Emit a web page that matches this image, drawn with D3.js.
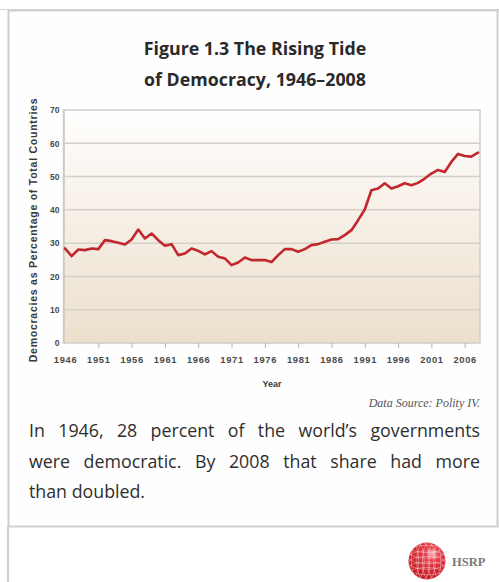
<!DOCTYPE html>
<html>
<head>
<meta charset="utf-8">
<script src="https://cdn.jsdelivr.net/npm/d3@7"></script>
<style>
  html, body { margin: 0; padding: 0; background: #ffffff; }
  svg { display: block; }
</style>
</head>
<body>
<svg id="chart" width="499" height="582"></svg>
<script>
const years = [1946,1947,1948,1949,1950,1951,1952,1953,1954,1955,1956,1957,1958,1959,1960,1961,1962,1963,1964,1965,1966,1967,1968,1969,1970,1971,1972,1973,1974,1975,1976,1977,1978,1979,1980,1981,1982,1983,1984,1985,1986,1987,1988,1989,1990,1991,1992,1993,1994,1995,1996,1997,1998,1999,2000,2001,2002,2003,2004,2005,2006,2007,2008];
const democracyPct = [28.4,26.1,28.1,27.9,28.4,28.2,30.9,30.6,30.1,29.6,31.1,34.1,31.4,32.9,30.9,29.2,29.7,26.4,26.9,28.4,27.7,26.6,27.6,25.9,25.4,23.4,24.2,25.7,24.9,24.9,24.9,24.3,26.4,28.2,28.2,27.4,28.2,29.4,29.7,30.4,31.1,31.2,32.4,33.9,36.9,40.1,45.9,46.4,48.0,46.4,47.1,48.0,47.4,48.1,49.4,50.9,52.0,51.4,54.4,56.8,56.2,56.0,57.2];
const xTickYears = [1946,1951,1956,1961,1966,1971,1976,1981,1986,1991,1996,2001,2006];
const yTicks = [0,10,20,30,40,50,60,70];
const titleLines = ["Figure 1.3 The Rising Tide", "of Democracy, 1946\u20132008"];
const yAxisTitle = "Democracies as Percentage of Total Countries";
const xAxisTitle = "Year";
const sourceText = "Data Source: Polity IV.";
const bodyLines = ["In 1946, 28 percent of the world\u2019s governments", "were democratic. By 2008 that share had more", "than doubled."];
const logoText = "HSRP";

const svg = d3.select("#chart");
const sans = "'Open Sans', 'Noto Sans', sans-serif";
const axisFont = "'Liberation Sans', Arial, sans-serif";

// page frame
svg.append("line").attr("x1", 0).attr("x2", 499).attr("y1", 9.5).attr("y2", 9.5)
  .attr("stroke", "#d6d6d6").attr("stroke-width", 1);
svg.append("rect").attr("x", 8.5).attr("y", 10.5).attr("width", 489).attr("height", 516)
  .attr("fill", "#fefefe").attr("stroke", "#cfcfcf").attr("stroke-width", 2);
svg.append("line").attr("x1", 8).attr("x2", 8).attr("y1", 526).attr("y2", 582)
  .attr("stroke", "#cfcfcf").attr("stroke-width", 2);

// title
svg.append("g").selectAll("text").data(titleLines).join("text")
  .attr("x", 255).attr("y", (d, i) => 55 + i * 31)
  .attr("text-anchor", "middle")
  .attr("font-family", sans).attr("font-weight", 700).attr("font-size", 17.8)
  .attr("fill", "#2a2a2a").text(d => d);

// scales
const x = d3.scaleLinear().domain([1946, 2008]).range([65, 478]);
const y = d3.scaleLinear().domain([0, 70]).range([343, 110]);
const plotL = 63.5, plotR = 480, plotT = y(70), plotB = y(0);

// gradient background
const defs = svg.append("defs");
const grad = defs.append("linearGradient").attr("id", "bg").attr("x1", 0).attr("x2", 0).attr("y1", 0).attr("y2", 1);
grad.append("stop").attr("offset", "0%").attr("stop-color", "#ffffff");
grad.append("stop").attr("offset", "15%").attr("stop-color", "#fcf9f5");
grad.append("stop").attr("offset", "100%").attr("stop-color", "#ecdfcd");

svg.append("rect").attr("x", plotL).attr("y", plotT).attr("width", plotR - plotL).attr("height", plotB - plotT)
  .attr("fill", "url(#bg)");

// gridlines
svg.append("g").selectAll("line").data(yTicks.filter(t => t > 0 && t < 70)).join("line")
  .attr("x1", plotL).attr("x2", plotR).attr("y1", d => y(d)).attr("y2", d => y(d))
  .attr("stroke", "#d3cfca").attr("stroke-width", 1.5);

// frame of plot
svg.append("rect").attr("x", plotL).attr("y", plotT).attr("width", plotR - plotL).attr("height", plotB - plotT)
  .attr("fill", "none").attr("stroke", "#d0cdca").attr("stroke-width", 1.5);

// y axis
const yAxis = d3.axisLeft(y).tickValues(yTicks).tickSize(0).tickPadding(4);
const gy = svg.append("g").attr("transform", `translate(${plotL},0)`).call(yAxis);
gy.select(".domain").attr("stroke", "#cbc8c4").attr("stroke-width", 1.5);
gy.selectAll("text").attr("font-family", axisFont).attr("font-weight", 700).attr("font-size", 8.5)
  .attr("fill", "#4a4a4a");

// x axis
const xAxis = d3.axisBottom(x).tickValues(xTickYears).tickFormat(d3.format("d")).tickSize(5).tickPadding(8);
const gx = svg.append("g").attr("transform", `translate(0,${plotB})`).call(xAxis);
gx.select(".domain").remove();
gx.selectAll(".tick line").attr("stroke", "#b9b6b2").attr("stroke-width", 1);
gx.selectAll(".tick").filter(d => d === 1946).select("line").remove();
gx.selectAll("text").attr("font-family", axisFont).attr("font-weight", 700).attr("font-size", 9.3)
  .attr("letter-spacing", 0.7).attr("fill", "#4a4a4a");

// axis titles
svg.append("text").attr("transform", "translate(37,230) rotate(-90)")
  .attr("text-anchor", "middle").attr("font-family", axisFont).attr("font-weight", 700)
  .attr("font-size", 10.5).attr("letter-spacing", 0.75).attr("fill", "#3a3a3a").text(yAxisTitle);
svg.append("text").attr("x", 272).attr("y", 387).attr("text-anchor", "middle")
  .attr("font-family", axisFont).attr("font-weight", 700).attr("font-size", 9)
  .attr("fill", "#3a3a3a").text(xAxisTitle);

// line
const line = d3.line().x((d, i) => x(years[i])).y(d => y(d));
svg.append("path").datum(democracyPct).attr("d", line)
  .attr("fill", "none").attr("stroke", "#c1272d").attr("stroke-width", 2.6)
  .attr("stroke-linejoin", "round").attr("stroke-linecap", "round");

// source
svg.append("text").attr("x", 480).attr("y", 407).attr("text-anchor", "end")
  .attr("font-family", "'Liberation Serif', 'DejaVu Serif', serif").attr("font-style", "italic")
  .attr("font-size", 12).attr("fill", "#555").text(sourceText);

// body text (justified)
const bodyLeft = 29, bodyRight = 480;
bodyLines.forEach((t, i) => {
  const el = svg.append("text").attr("x", bodyLeft).attr("y", 437 + i * 30.5)
    .attr("font-family", sans).attr("font-size", 17.8).attr("fill", "#2e2e2e").text(t);
  if (i < bodyLines.length - 1) {
    const w = el.node().getComputedTextLength();
    const spaces = (t.match(/ /g) || []).length;
    if (spaces > 0) el.attr("word-spacing", (bodyRight - bodyLeft - w) / spaces);
  }
});

// logo
const lg = defs.append("radialGradient").attr("id", "ball").attr("cx", "65%").attr("cy", "30%").attr("r", "75%");
lg.append("stop").attr("offset", "0%").attr("stop-color", "#f6b3b8");
lg.append("stop").attr("offset", "25%").attr("stop-color", "#e53945");
lg.append("stop").attr("offset", "100%").attr("stop-color", "#c3161f");
const cx = 427, cy = 561, r = 18.5;
defs.append("clipPath").attr("id", "ballclip").append("circle").attr("cx", cx).attr("cy", cy).attr("r", r);
svg.append("circle").attr("cx", cx).attr("cy", cy).attr("r", r).attr("fill", "url(#ball)");
const grid = svg.append("g").attr("clip-path", "url(#ballclip)").attr("stroke", "#ffffff").attr("stroke-opacity", 0.45).attr("fill", "none").attr("stroke-width", 0.8);
[-0.8,-0.5,-0.2,0.1,0.4,0.7].forEach(k => {
  grid.append("ellipse").attr("cx", cx + k * r).attr("cy", cy).attr("rx", r * 0.35).attr("ry", r);
  grid.append("ellipse").attr("cx", cx).attr("cy", cy + k * r).attr("rx", r).attr("ry", r * 0.35);
});
svg.append("text").attr("x", 452).attr("y", 566).attr("font-family", "'Liberation Serif', 'DejaVu Serif', serif")
  .attr("font-weight", 700).attr("font-size", 12.5).attr("fill", "#7a7a7a").text(logoText);
</script>
</body>
</html>
